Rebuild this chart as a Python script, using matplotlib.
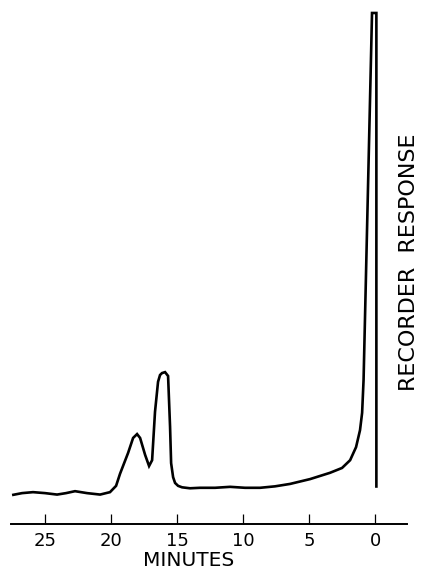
import matplotlib
matplotlib.use("Agg")
import matplotlib.pyplot as plt

# Gas chromatogram trace: recorder response vs. retention time (minutes)
minutes = [27.50, 26.74, 25.91, 25.00, 24.09, 23.41, 22.73, 21.82, 20.83, 20.08,
           19.62, 19.32, 18.71, 18.33, 18.03, 17.80, 17.42, 17.12, 16.89, 16.67,
           16.44, 16.29, 16.14, 15.91, 15.68, 15.53, 15.45, 15.30, 15.15, 14.92,
           14.62, 14.02, 13.26, 12.12, 10.98, 9.85, 8.71, 7.58, 6.44, 4.92,
           3.41, 2.50, 1.89, 1.44, 1.14, 0.98, 0.87, 0.23, -0.10, -0.10]
response = [0.4, 0.8, 1.0, 0.8, 0.5, 0.8, 1.2, 0.8, 0.5, 1.0,
            2.3, 4.8, 9.1, 12.2, 13.0, 12.2, 8.7, 6.4, 7.6, 17.6,
            23.8, 25.2, 25.6, 25.8, 25.0, 14.5, 7.0, 4.1, 2.9, 2.3,
            2.0, 1.8, 1.9, 1.9, 2.1, 1.9, 1.9, 2.2, 2.7, 3.7,
            5.0, 6.0, 7.6, 10.3, 13.8, 17.4, 24.2, 100.0, 100.0, 1.9]

tick_values = [25, 20, 15, 10, 5, 0]
tick_labels = ["25", "20", "15", "10", "5", "0"]

W, H, DPI = 424, 571, 100
fig = plt.figure(figsize=(W / DPI, H / DPI), dpi=DPI)
fig.patch.set_facecolor("white")

left_px, right_px, top_px, axis_px = 11, 407, 5, 524
ax = fig.add_axes([left_px / W, (H - axis_px) / H,
                   (right_px - left_px) / W, (axis_px - top_px) / H])

ax.plot(minutes, response, color="black", lw=1.9,
        solid_joinstyle="miter", solid_capstyle="butt")

ax.set_xlim(27.58, -2.42)
ax.set_ylim(-5.58, 101.65)

for side in ("left", "right", "top"):
    ax.spines[side].set_visible(False)
ax.spines["bottom"].set_linewidth(1.4)
ax.set_yticks([])

ax.set_xticks(tick_values)
ax.set_xticklabels(tick_labels)
ax.tick_params(axis="x", direction="in", length=7.0, width=0.9,
               pad=6, labelsize=13, colors="black")

ax.set_xlabel("MINUTES", fontsize=14.5)
ax.xaxis.set_label_coords((189 - left_px) / (right_px - left_px), -0.052)

fig.text(409 / W, 1 - 262 / H, "RECORDER  RESPONSE", rotation=90,
         ha="center", va="center", fontsize=16)

fig.savefig("out.png", dpi=DPI, facecolor="white")
